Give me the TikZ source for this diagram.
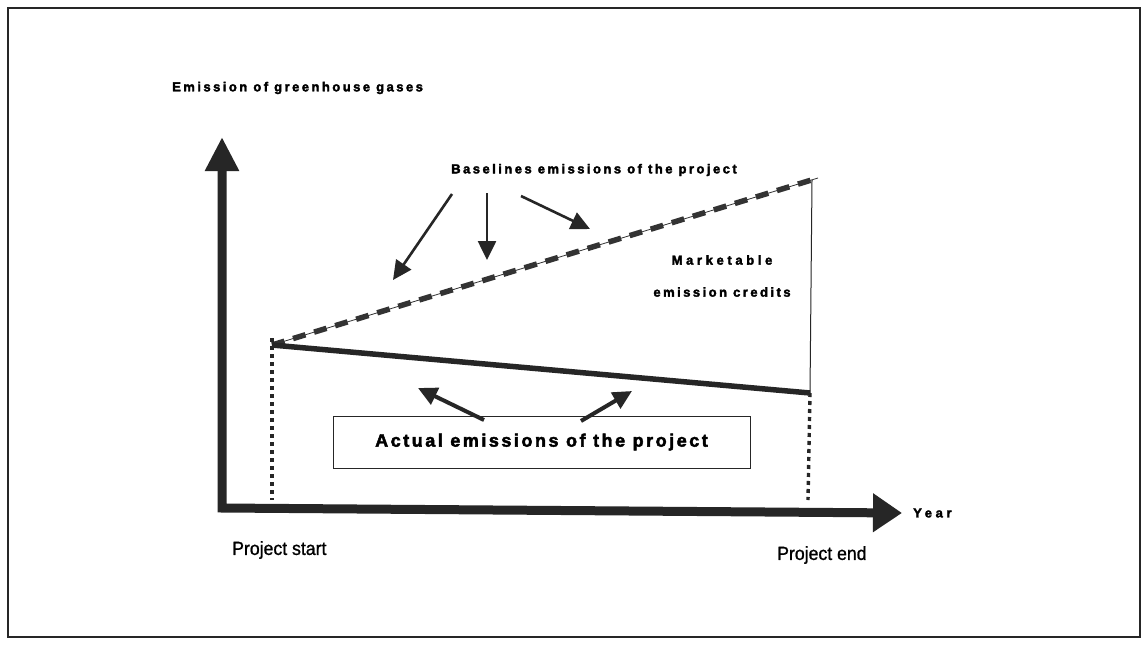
\documentclass[tikz,border=0pt]{standalone}
\usepackage{fontspec}
\setmainfont{Liberation Sans}
\newfontfamily\spacedbold[LetterSpace=19,FakeBold=2.5]{Liberation Sans Bold}
\newfontfamily\spacedboldwide[LetterSpace=28,FakeBold=2.5]{Liberation Sans Bold}
\newfontfamily\spacedboldbig[LetterSpace=14,FakeBold=2.5]{Liberation Sans Bold}
\newfontfamily\narrowfont[FakeStretch=0.93,FakeBold=1]{Liberation Sans}
\usetikzlibrary{arrows.meta}
\begin{document}
\begin{tikzpicture}[x=1pt,y=-1pt,
  lbl/.style={font=\spacedbold\fontsize{13}{15}\selectfont, inner sep=1pt},
  widelbl/.style={font=\spacedboldwide\fontsize{13}{15}\selectfont, inner sep=1pt},
  biglbl/.style={font=\spacedboldbig\fontsize{18}{20}\selectfont, inner sep=1pt},
  narrowlbl/.style={font=\narrowfont\fontsize{19}{21}\selectfont, inner sep=1pt},
  ptr/.style={line width=2.6pt, -{Triangle[length=19pt,width=18pt]}},
  axis/.style={line width=9pt, line join=miter, {Triangle[length=34pt,width=32pt]}-{Triangle[length=29pt,width=37pt]}},
  dotline/.style={line width=3.4pt, dash pattern=on 4pt off 4pt},
]
\useasboundingbox (0,0) rectangle (1145,645);
\fill[white] (0,0) rectangle (1145,645);
% frame
\draw[line width=1.2pt, black!85] (8,8) rectangle (1140,637);

% axes
\coordinate (ytip) at (222,137);
\coordinate (orig) at (222,508);
\coordinate (xtip) at (902,513);
\draw[axis, black!85] (ytip) -- (orig) -- (xtip);

% key points
\coordinate (s) at (272,345);
\coordinate (bE) at (818,178);
\coordinate (aE) at (810,393);
\coordinate (sBot) at (272,500);
\coordinate (eBot) at (808,500);
\coordinate (rTop) at (812,180);

% baseline dashed
\draw[line width=0.8pt, black!80] (s) -- (bE);
\draw[line width=5.5pt, black!80, dash pattern=on 13pt off 9pt] (s) -- (bE);
% marketable vertical
\draw[line width=1pt, black!85] (rTop) -- (aE);
% actual emissions
\draw[line width=5.5pt, black!85] (s) -- (aE);
% dotted verticals
\draw[dotline, black!85] (272,338) -- (sBot);
\draw[dotline, black!85] (aE) -- (eBot);

% labels
\node[lbl, anchor=west] (ylab) at (171,88) {Emission of greenhouse gases};
\node[lbl] (base) at (594,170) {Baselines emissions of the project};
\node[widelbl] (mk1) at (722,260) {Marketable};
\node[lbl] (mk2) at (722,292) {emission credits};
\node[widelbl, anchor=west] (year) at (912,513) {Year};
\node[narrowlbl, anchor=west] (pstart) at (231,550) {Project start};
\node[narrowlbl, anchor=west] (pend) at (776,555) {Project end};

% actual box
\node[draw, line width=0.9pt, black!85, minimum width=417pt, minimum height=52pt, biglbl, text=black] (act) at (541.5,442) {Actual emissions of the project};

% pointer arrows
\coordinate (b1s) at (452,194);
\coordinate (b1e) at (393,280);
\coordinate (b2s) at (487,193);
\coordinate (b2e) at (487,260);
\coordinate (b3s) at (521,196);
\coordinate (b3e) at (590,229);
\draw[ptr, black!85] (b1s) -- (b1e);
\draw[ptr, black!85] (b2s) -- (b2e);
\draw[ptr, black!85] (b3s) -- (b3e);

\coordinate (a1s) at (484,420);
\coordinate (a1e) at (418,388);
\coordinate (a2s) at (581,421);
\coordinate (a2e) at (632,391);
\draw[ptr, line width=4pt, black!85] (a1s) -- (a1e);
\draw[ptr, line width=4pt, black!85] (a2s) -- (a2e);
\end{tikzpicture}
\end{document}
